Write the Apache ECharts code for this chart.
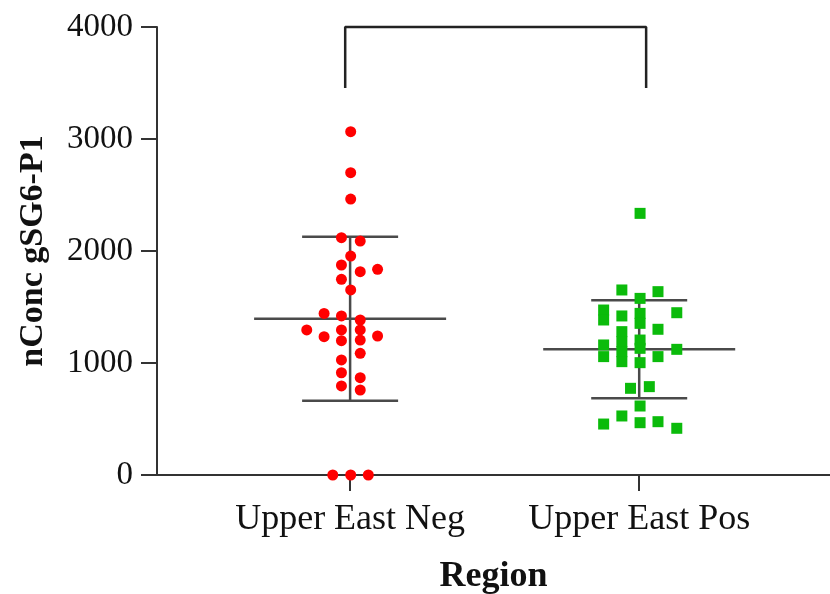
<!DOCTYPE html>
<html>
<head>
<meta charset="utf-8">
<script src="https://cdn.jsdelivr.net/npm/echarts@6/dist/echarts.min.js"></script>
<style>
  html, body { margin: 0; padding: 0; background: #fff; }
  #chart { width: 830px; height: 594px; }
</style>
</head>
<body>
<div id="chart"></div>
<script>
// groups on the x axis (1 = Neg, 2 = Pos)
const categories = ['Upper East Neg', 'Upper East Pos']

// [jittered x, value]
const negPoints = [
  [1.002, 3065], [1.002, 2699], [1.002, 2464], [0.97, 2119], [1.035, 2089],
  [1.002, 1955], [0.97, 1875], [1.035, 1815], [1.095, 1836], [0.97, 1747],
  [1.002, 1652], [0.91, 1443], [0.97, 1420], [1.035, 1384], [0.85, 1295],
  [0.97, 1295], [1.035, 1295], [0.91, 1235], [0.97, 1199], [1.035, 1205],
  [1.095, 1241], [1.035, 1086], [0.97, 1027], [0.97, 913], [1.035, 869],
  [0.97, 795], [1.035, 759], [0.94, 0], [1.002, 0], [1.063, 0]
]
const posPoints = [
  [2.003, 2336], [1.94, 1652], [2.065, 1637], [2.003, 1577], [1.877, 1473],
  [1.877, 1384], [1.94, 1420], [2.003, 1443], [2.003, 1354], [2.13, 1449],
  [2.065, 1301], [1.94, 1280], [1.94, 1190], [1.94, 1101], [1.94, 1012],
  [2.003, 1205], [2.003, 1131], [2.003, 1003], [1.877, 1161], [1.877, 1057],
  [2.13, 1122], [2.065, 1057], [1.97, 774], [2.035, 789], [2.003, 616],
  [1.94, 527], [1.877, 455], [2.003, 467], [2.065, 476], [2.13, 417]
]

// [group x, mean, sd]
const summary = [
  [1, 1396, 732],
  [2, 1123, 438]
]

// significance bracket
const bracket = [[0.983, 3455], [0.983, 4000], [2.024, 4000], [2.024, 3455]]

const yTicks = [0, 1000, 2000, 3000, 4000]

const serif = '"Liberation Serif", "Times New Roman", serif'
const chart = echarts.init(document.getElementById('chart'))

const option = {
  animation: false,
  grid: { left: 157, right: 0, top: 27, bottom: 119, outerBoundsMode: 'none', containLabel: false },
  xAxis: {
    type: 'value',
    min: 0.332,
    max: 2.66,
    name: 'Region',
    nameLocation: 'middle',
    nameGap: 84,
    nameTextStyle: { fontFamily: serif, fontWeight: 'bold', fontSize: 36, color: '#111' },
    splitLine: { show: false },
    axisLine: { lineStyle: { color: '#333', width: 2 } },
    axisTick: { customValues: [1, 2], length: 16, lineStyle: { color: '#333', width: 2 } },
    axisLabel: {
      customValues: [1, 2],
      margin: 27,
      fontFamily: serif,
      fontSize: 36,
      color: '#111',
      formatter: v => categories[Math.round(v) - 1] || ''
    }
  },
  yAxis: {
    type: 'value',
    min: yTicks[0],
    max: yTicks[yTicks.length - 1],
    interval: 1000,
    name: 'nConc gSG6-P1',
    nameLocation: 'middle',
    nameGap: 107,
    nameTextStyle: { fontFamily: serif, fontWeight: 'bold', fontSize: 34, color: '#111' },
    splitLine: { show: false },
    axisLine: { show: true, lineStyle: { color: '#333', width: 2 } },
    axisTick: { length: 16, lineStyle: { color: '#333', width: 2 } },
    axisLabel: { margin: 24, fontFamily: serif, fontSize: 33, color: '#111', formatter: v => String(v) }
  },
  series: [
    {
      type: 'custom',
      z: 2,
      data: summary,
      renderItem: function (params, api) {
        const x = api.value(0), m = api.value(1), s = api.value(2)
        const c = api.coord([x, m])
        const top = api.coord([x, m + s])
        const bot = api.coord([x, m - s])
        const st = { stroke: '#4a4a4a', lineWidth: 2.5 }
        return {
          type: 'group',
          children: [
            { type: 'line', shape: { x1: c[0] - 96, y1: c[1], x2: c[0] + 96, y2: c[1] }, style: st },
            { type: 'line', shape: { x1: c[0], y1: top[1], x2: c[0], y2: bot[1] }, style: st },
            { type: 'line', shape: { x1: c[0] - 48, y1: top[1], x2: c[0] + 48, y2: top[1] }, style: st },
            { type: 'line', shape: { x1: c[0] - 48, y1: bot[1], x2: c[0] + 48, y2: bot[1] }, style: st }
          ]
        }
      }
    },
    {
      type: 'scatter',
      z: 3,
      data: negPoints,
      symbol: 'circle',
      symbolSize: 11,
      itemStyle: { color: '#ff0000', opacity: 1 }
    },
    {
      type: 'scatter',
      z: 3,
      data: posPoints,
      symbol: 'rect',
      symbolSize: 11,
      itemStyle: { color: '#0bbb0b', opacity: 1 }
    },
    {
      type: 'line',
      data: bracket,
      symbol: 'none',
      clip: false,
      lineStyle: { color: '#222', width: 2.5 }
    }
  ]
}
chart.setOption(option)
</script>
</body>
</html>
